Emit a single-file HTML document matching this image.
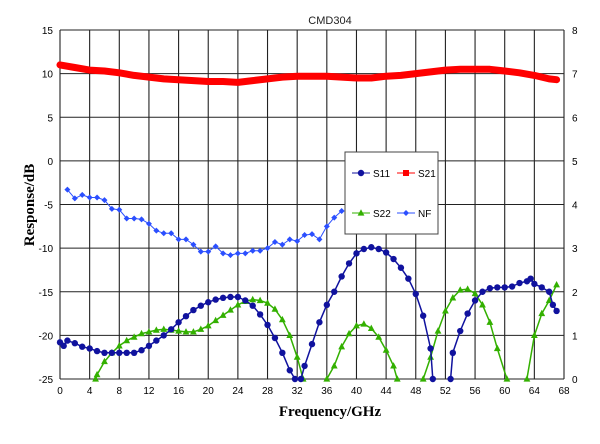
<!DOCTYPE html>
<html><head><meta charset="utf-8"><style>
html,body{margin:0;padding:0;background:#fff;}
svg text{font-family:"Liberation Sans",Arial,sans-serif;}
</style></head><body>
<svg id="chart" width="600" height="439" xmlns="http://www.w3.org/2000/svg">
<rect width="600" height="439" fill="#fff"/>
<g id="grid"></g>
<g id="series"></g>
<g id="legend"></g>
<text x="330" y="24" font-size="11" text-anchor="middle" fill="#222">CMD304</text>
<text x="330" y="416" font-size="15" font-weight="bold" text-anchor="middle" style="font-family:'Liberation Serif',serif">Frequency/GHz</text>
<text transform="translate(34,205) rotate(-90)" font-size="15" font-weight="bold" text-anchor="middle" style="font-family:'Liberation Serif',serif">Response/dB</text>
</svg>
<script>
const xTicks=[0,4,8,12,16,20,24,28,32,36,40,44,48,52,56,60,64,68];
const yTicks=[15,10,5,0,-5,-10,-15,-20,-25];
const y2Ticks=[8,7,6,5,4,3,2,1,0];
const s21X=[0,2,4,6,8,10,12,14,16,18,20,22,24,26,28,30,32,34,36,38,40,42,44,46,48,50,52,54,56,58,60,62,64,66,67];
const s21Y=[11,10.7,10.4,10.3,10.1,9.8,9.6,9.4,9.3,9.2,9.1,9.1,9.0,9.2,9.4,9.6,9.7,9.7,9.7,9.6,9.5,9.5,9.7,9.8,10.0,10.2,10.4,10.5,10.5,10.5,10.3,10.1,9.8,9.4,9.3];
const s11X=[0,0.5,1,2,3,4,5,6,7,8,9,10,11,12,13,14,15,16,17,18,19,20,21,22,23,24,25,26,27,28,29,30,31,31.7,null,32.5,33,34,35,36,37,38,39,40,41,42,43,44,45,46,47,48,49,50,50.3,null,52.7,53,54,55,56,57,58,59,60,61,62,63,63.5,64,65,66,66.5,67];
const s11Y=[-20.8,-21.2,-20.6,-20.9,-21.3,-21.5,-21.8,-22,-22,-22,-22,-22,-21.7,-21.2,-20.6,-20,-19.3,-18.5,-17.8,-17.1,-16.6,-16.2,-15.9,-15.7,-15.6,-15.6,-16,-16.6,-17.6,-18.8,-20.3,-22,-24,-25,null,-25,-23.5,-21,-18.5,-16.5,-15,-13.25,-11.75,-10.6,-10.1,-9.9,-10.1,-10.5,-11.25,-12.25,-13.5,-15.25,-17.75,-21.5,-25,null,-25,-22,-19.5,-17.5,-16,-15,-14.6,-14.5,-14.5,-14.4,-14,-13.8,-13.5,-14.1,-14.5,-15,-16.5,-17.2];
const s22X=[4.8,5,6,7,8,9,10,11,12,13,14,15,16,17,18,19,20,21,22,23,24,25,26,27,28,29,30,31,32,32.8,null,36,37,38,39,40,41,42,43,44,45,45.5,null,49,50,51,52,53,54,55,56,57,58,59,60.3,null,63,64,65,66,67];
const s22Y=[-25,-24.5,-23,-22,-21.2,-20.6,-20.2,-19.8,-19.6,-19.4,-19.3,-19.4,-19.5,-19.6,-19.6,-19.3,-18.9,-18.3,-17.7,-17.1,-16.5,-16.1,-15.9,-16,-16.3,-17,-18.2,-20,-22.5,-25,null,-25,-23.5,-21.3,-19.8,-18.9,-18.7,-19.2,-20.2,-21.7,-23.5,-25,null,-25,-22.5,-19.5,-17.2,-15.7,-14.8,-14.7,-15.2,-16.5,-18.5,-21.5,-25,null,-25,-20,-17.5,-16,-14.2];
const nfX=[1,2,3,4,5,6,7,8,9,10,11,12,13,14,15,16,17,18,19,20,21,22,23,24,25,26,27,28,29,30,31,32,33,34,35,36,37,38];
const nfY=[4.34,4.14,4.22,4.16,4.16,4.1,3.9,3.88,3.68,3.68,3.66,3.56,3.4,3.34,3.34,3.2,3.2,3.08,2.92,2.92,3.04,2.88,2.84,2.88,2.88,2.94,2.94,3.0,3.14,3.08,3.2,3.16,3.3,3.32,3.2,3.5,3.7,3.85];

const NS="http://www.w3.org/2000/svg";
const X0=60,X1=564,Y0=30,Y1=379;
const sx=v=>X0+(v-0)/68*(X1-X0);
const sy=v=>Y1-(v+25)/40*(Y1-Y0);
const sy2=v=>Y1-v/8*(Y1-Y0);
function mk(tag,attrs,parent){const e=document.createElementNS(NS,tag);for(const k in attrs)e.setAttribute(k,attrs[k]);parent.appendChild(e);return e;}
const grid=document.getElementById('grid');
xTicks.forEach(t=>{
  const l=mk('line',{x1:sx(t),x2:sx(t),y1:Y0,y2:Y1,stroke:'#222','stroke-width':1.1},grid);
  
  
  const tx=mk('text',{x:sx(t),y:Y1+15,'font-size':10,'text-anchor':'middle'},grid);
  tx.textContent=t;
  
  
});
yTicks.forEach(t=>{
  const l=mk('line',{x1:X0,x2:X1,y1:sy(t),y2:sy(t),stroke:'#222','stroke-width':1.1},grid);
  
  
  const tx=mk('text',{x:X0-7,y:sy(t)+4,'font-size':10,'text-anchor':'end'},grid);
  tx.textContent=t;
  
  
});
y2Ticks.forEach(t=>{
  const tx=mk('text',{x:X1+8,y:sy2(t)+4,'font-size':10,'text-anchor':'start'},grid);
  tx.textContent=t;
  
  
});
const ser=document.getElementById('series');
function pathD(xs,ys,fy){let d='',pen=false;xs.forEach((x,i)=>{const y=ys[i];if(x===null||y===null){pen=false;return;}d+=(pen?'L':'M')+sx(x).toFixed(1)+','+fy(y).toFixed(1);pen=true;});return d;}
function marker(type,x,y,color,g){
  let e;
  if(type==='circle')e=mk('circle',{cx:x,cy:y,r:3.2,fill:color},g);
  else if(type==='tri')e=mk('polygon',{points:`${x},${y-3.8} ${x-3.4},${y+2.6} ${x+3.4},${y+2.6}`,fill:color},g);
  else if(type==='diamond')e=mk('polygon',{points:`${x},${y-3} ${x+3},${y} ${x},${y+3} ${x-3},${y}`,fill:color},g);
  else e=mk('rect',{x:x-3,y:y-3,width:6,height:6,fill:color},g);
  return e;
}
function drawSeries(name,xs,ys,fy,color,w,type){
  const g=mk('g',{},ser);
  
  
  mk('path',{d:pathD(xs,ys,fy),fill:'none',stroke:color,'stroke-width':w,'stroke-linejoin':'round','stroke-linecap':'round'},g);
  if(type)xs.forEach((x,i)=>{if(x===null||ys[i]===null)return;const m=marker(type,sx(x),fy(ys[i]),color,g);
    
    });
}
drawSeries('nf',nfX,nfY,sy2,'#2b4fff',1,'diamond');
drawSeries('s21',s21X,s21Y,sy,'#ff0000',7,null);
drawSeries('s22',s22X,s22Y,sy,'#33b000',1.5,'tri');
drawSeries('s11',s11X,s11Y,sy,'#10129e',1.5,'circle');
mk('line',{x1:X1,x2:X1,y1:Y0,y2:Y1,stroke:'#222'},grid);
const lg=document.getElementById('legend');
mk('rect',{x:345,y:152,width:93,height:82,fill:'#fff',stroke:'#444','stroke-width':1},lg);
const items=[['S11','#10129e','circle',352,173],['S21','#ff0000','square',397,173],['S22','#33b000','tri',352,213],['NF','#2b4fff','diamond',397,213]];
items.forEach(it=>{
  const g=mk('g',{},lg);
  
  
  mk('line',{x1:it[3],x2:it[3]+18,y1:it[4],y2:it[4],stroke:it[1],'stroke-width':1},g);
  marker(it[2],it[3]+9,it[4],it[1],g);
  const t=mk('text',{x:it[3]+21,y:it[4]+4,'font-size':10},g);
  t.textContent=it[0];
});
</script>
</body></html>
